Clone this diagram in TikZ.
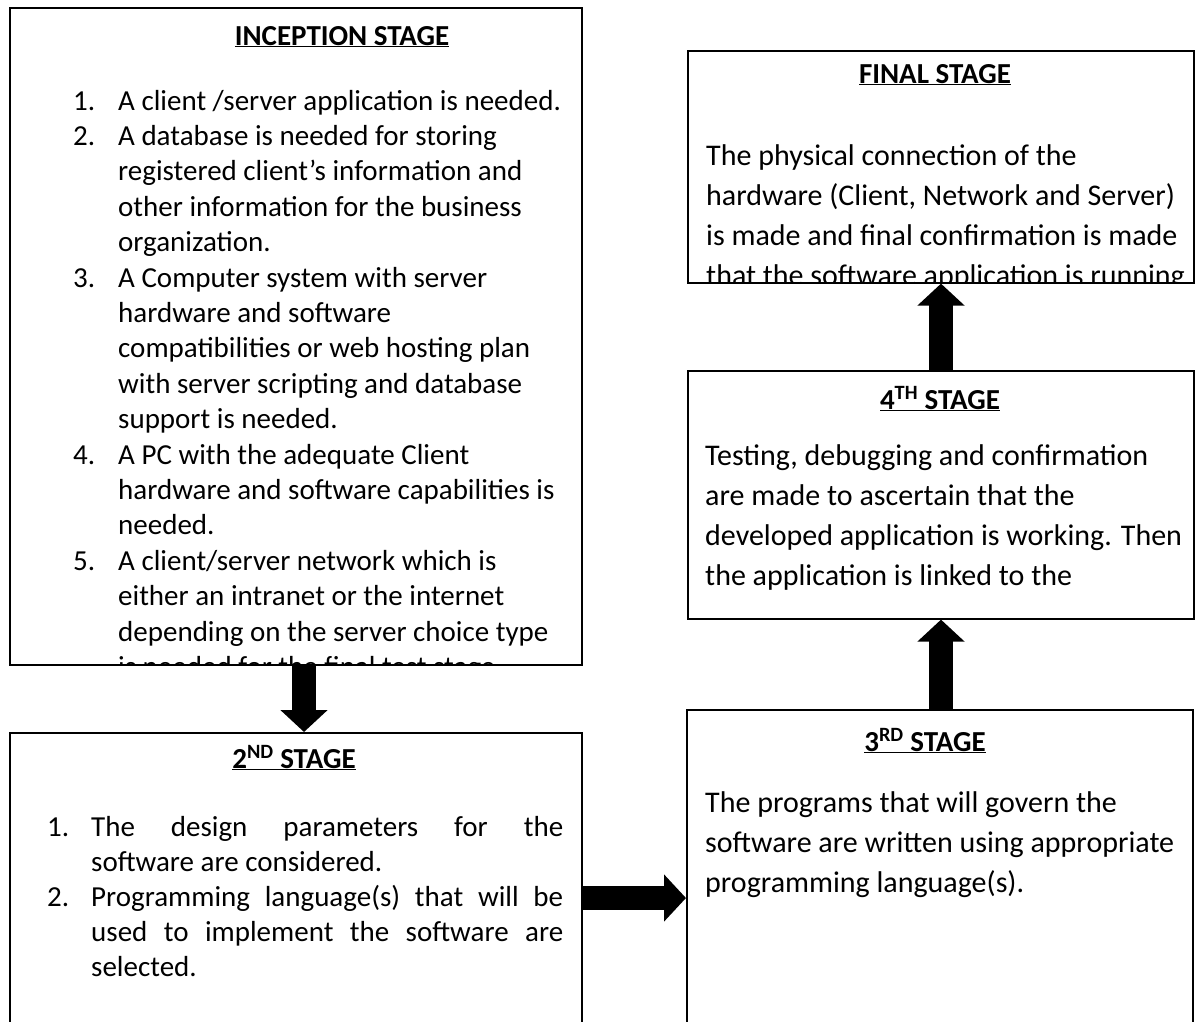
\documentclass[tikz,border=0pt]{standalone}
\usepackage{fontspec}
\setmainfont{Carlito}
\usetikzlibrary{arrows.meta}

\newcommand{\leftfont}{\fontsize{29}{35.4}\selectfont}
\newcommand{\secondfont}{\fontsize{29}{35}\selectfont}
\newcommand{\rightfont}{\fontsize{30}{40}\selectfont}

\tikzset{
  stagebox/.style={draw, line width=1.6pt, inner sep=0pt, anchor=north west},
  stagetitle/.style={font=\bfseries\fontsize{29}{31}\selectfont, inner sep=0pt, anchor=base},
  stagetext/.style={inner sep=0pt, anchor=base west, align=left},
  blockarrow/.style={line width=24pt, -{Triangle[length=22pt,width=46pt]}},
}

\begin{document}
\begin{tikzpicture}[x=1pt, y=-1pt]
\useasboundingbox (0,0) rectangle (1196,1021);
\clip (0,0) rectangle (1196,1021);
\fill[white] (0,0) rectangle (1196,1021);

% the five stage boxes
\node[stagebox, minimum width=572pt, minimum height=657pt] (incep) at (9,7) {};
\node[stagebox, minimum width=572pt, minimum height=330pt] (second) at (9,732) {};
\node[stagebox, minimum width=506pt, minimum height=350pt] (third) at (686,709) {};
\node[stagebox, minimum width=506pt, minimum height=248pt] (fourth) at (687,370) {};
\node[stagebox, minimum width=506pt, minimum height=232pt] (final) at (687,50) {};

% inception stage
\begin{scope}
\clip (incep.north west) rectangle (incep.south east);
\node[stagetitle] (incept) at (342,45) {\underline{INCEPTION STAGE}};
\node[stagetext, font=\leftfont] (incepl) at (73,110) {%
\begin{tabular}[t]{@{}p{45pt}@{}l@{}}
1. & A client /server application is needed.\\
2. & A database is needed for storing\\
   & registered client’s information and\\
   & other information for the business\\
   & organization.\\
3. & A Computer system with server\\
   & hardware and software\\
   & compatibilities or web hosting plan\\
   & with server scripting and database\\
   & support is needed.\\
4. & A PC with the adequate Client\\
   & hardware and software capabilities is\\
   & needed.\\
5. & A client/server network which is\\
   & either an intranet or the internet\\
   & depending on the server choice type\\
   & is needed for the final test stage.
\end{tabular}};
\end{scope}

% 2nd stage
\begin{scope}
\clip (second.north west) rectangle (second.south east);
\node[stagetitle] (secondt) at (294,768) {\underline{2\textsuperscript{ND} STAGE}};
\node[stagetext, font=\secondfont] (secondl) at (47,836) {%
\begin{tabular}[t]{@{}p{44pt}@{}l@{}}
1. & \makebox[472pt][s]{The design parameters for the}\\
   & software are considered.\\
2. & \makebox[472pt][s]{Programming language(s) that will be}\\
   & \makebox[472pt][s]{used to implement the software are}\\
   & selected.
\end{tabular}};
\end{scope}

% 3rd stage
\node[stagetitle] (thirdt) at (925,751) {\underline{3\textsuperscript{RD} STAGE}};
\node[stagetext, font=\rightfont] (thirdl) at (705,812) {%
\begin{tabular}[t]{@{}l@{}}
The programs that will govern the\\
software are written using appropriate\\
programming language(s).
\end{tabular}};

% 4th stage
\begin{scope}
\clip (fourth.north west) rectangle (fourth.south east);
\node[stagetitle] (fourtht) at (940,409) {\underline{4\textsuperscript{TH} STAGE}};
\node[stagetext, font=\rightfont] (fourthl) at (705,465) {%
\begin{tabular}[t]{@{}l@{}}
Testing, debugging and confirmation\\
are made to ascertain that the\\
developed application is working. Then\\
the application is linked to the
\end{tabular}};
\end{scope}

% final stage
\begin{scope}
\clip (final.north west) rectangle (final.south east);
\node[stagetitle] (finalt) at (935,83) {\underline{FINAL STAGE}};
\node[stagetext, font=\rightfont] (finall) at (706,165) {%
\begin{tabular}[t]{@{}l@{}}
The physical connection of the\\
hardware (Client, Network and Server)\\
is made and final confirmation is made\\
that the software application is running
\end{tabular}};
\end{scope}

% block arrows between the stages
\coordinate (downx) at (304,0);
\coordinate (righty) at (0,898);
\coordinate (upx) at (941,0);
\draw[blockarrow] (incep.south -| downx) -- (second.north -| downx);
\draw[blockarrow] (second.east |- righty) -- (third.west |- righty);
\draw[blockarrow] (third.north -| upx) -- (fourth.south -| upx);
\draw[blockarrow] (fourth.north -| upx) -- (final.south -| upx);
\end{tikzpicture}
\end{document}
